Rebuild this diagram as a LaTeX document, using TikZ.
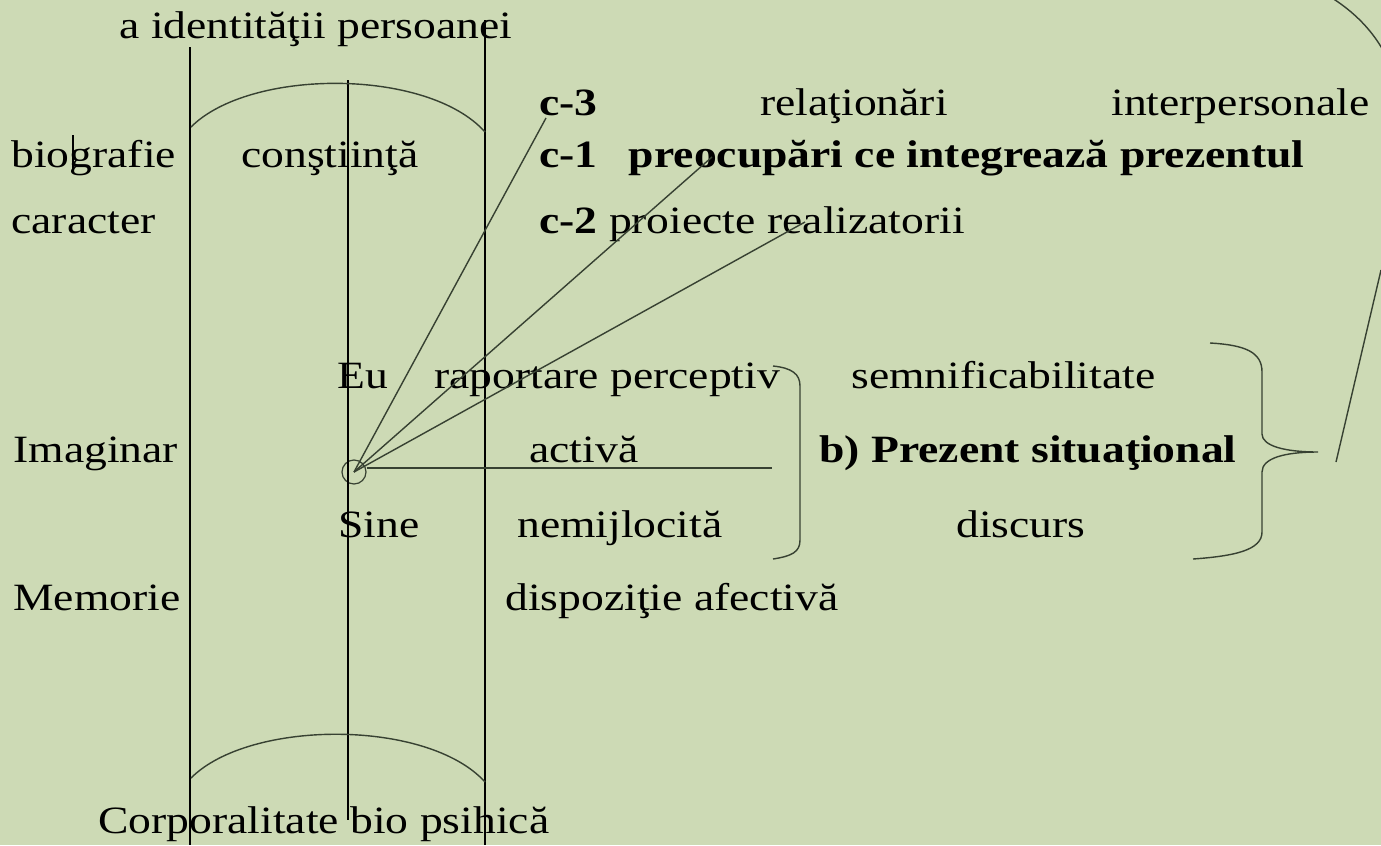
\documentclass[tikz,border=0pt]{standalone}
\usepackage{fontspec}
\setmainfont{Liberation Serif}[FakeStretch=1.18]
\usetikzlibrary{positioning}
\definecolor{slidegreen}{RGB}{205,218,181}
\definecolor{arcgray}{RGB}{55,65,50}
\tikzset{
  lbl/.style={anchor=base west, inner sep=0pt, font=\fontsize{22}{26}\selectfont},
  blbl/.style={lbl, font=\fontsize{22}{26}\selectfont\bfseries},
  ln/.style={line width=0.8pt, black},
  arcln/.style={line width=0.8pt, arcgray},
  self/.style={circle, draw=arcgray, line width=0.7pt, minimum size=0.48cm, inner sep=0pt}
}
\begin{document}
\begin{tikzpicture}[x=0.02cm, y=-0.02cm]
	\fill[slidegreen] (0,0) rectangle (1381,845);
	\useasboundingbox (0,0) rectangle (1381,845);
	\clip (0,0) rectangle (1381,845);
	% left part
	\node[lbl] (ident) at (119,38) {a identităţii persoanei};
	\node[lbl] (biogr) at (11,167) {biografie};
	\node[lbl] (constiinta) at (241,167) {conştiinţă};
	\node[lbl] (caracter) at (11,233) {caracter};
	\node[lbl] (imaginar) at (13,462) {Imaginar};
	\node[lbl] (memorie) at (13,610) {Memorie};
	\node[lbl] (corp) at (98,833) {Corporalitate bio psihică};
	\node[lbl] (eu) at (337,388) {Eu};
	\node[lbl] (raport) at (434,388) {raportare perceptiv};
	\node[lbl] (activa) at (529,462) {activă};
	\node[lbl] (sine) at (338,537) {Sine};
	\node[lbl] (nemij) at (517,537) {nemijlocită};
	\node[lbl] (dispoz) at (505,610) {dispoziţie afectivă};
	% right part
	\node[blbl] (c3) at (539,115) {c-3};
	\node[lbl] (relatii) at (760,115) {relaţionări};
	\node[lbl] (interp) at (1111,115) {interpersonale};
	\node[blbl] (c1) at (539,167) {c-1\hspace{0.4cm} preocupări ce integrează prezentul};
	\node[lbl] (c2) at (539,233) {\textbf{c-2} proiecte realizatorii};
	\node[lbl] (semnif) at (851,388) {semnificabilitate};
	\node[blbl] (prezent) at (819,462) {b) Prezent situaţional};
	\node[lbl] (discurs) at (956,537) {discurs};
	\node[self] (self) at (354,472) {};
	%
	\draw[ln] (190,47) -- (190,845);
	\draw[ln] (348,80) -- (348,820);
	\draw[ln] (485,20) -- (485,845);
	\draw[ln] (73,135) -- (73,173);
	\draw[arcln] (191,127) .. controls (250,68) and (428,68) .. (485,132);
	\draw[arcln] (191,778) .. controls (250,719) and (428,719) .. (485,782);
	%
	\coordinate (c3end) at (546,118);
	\coordinate (c1end) at (712,157);
	\coordinate (c2end) at (805,222);
	\coordinate (lineend) at (772,468);
	\draw[arcln] (self.center) -- (c3end);
	\draw[arcln] (self.center) -- (c1end);
	\draw[arcln] (self.center) -- (c2end);
	\draw[arcln] (self.east |- lineend) -- (lineend);
	%
	\draw[arcln] (773,366) .. controls (792,368) and (800,374) .. (800,386) -- (800,540) .. controls (800,552) and (792,556) .. (773,559);
	\draw[arcln] (1210,343) .. controls (1245,345) and (1262,352) .. (1262,372) -- (1262,434) .. controls (1262,446) and (1285,452) .. (1318,452)
	  .. controls (1285,452) and (1262,458) .. (1262,472) -- (1262,532) .. controls (1262,550) and (1235,556) .. (1193,559);
	\draw[arcln] (1332,-2) .. controls (1354,12) and (1372,30) .. (1384,52);
	\draw[arcln] (1381,270) -- (1336,462);
\end{tikzpicture}
\end{document}
